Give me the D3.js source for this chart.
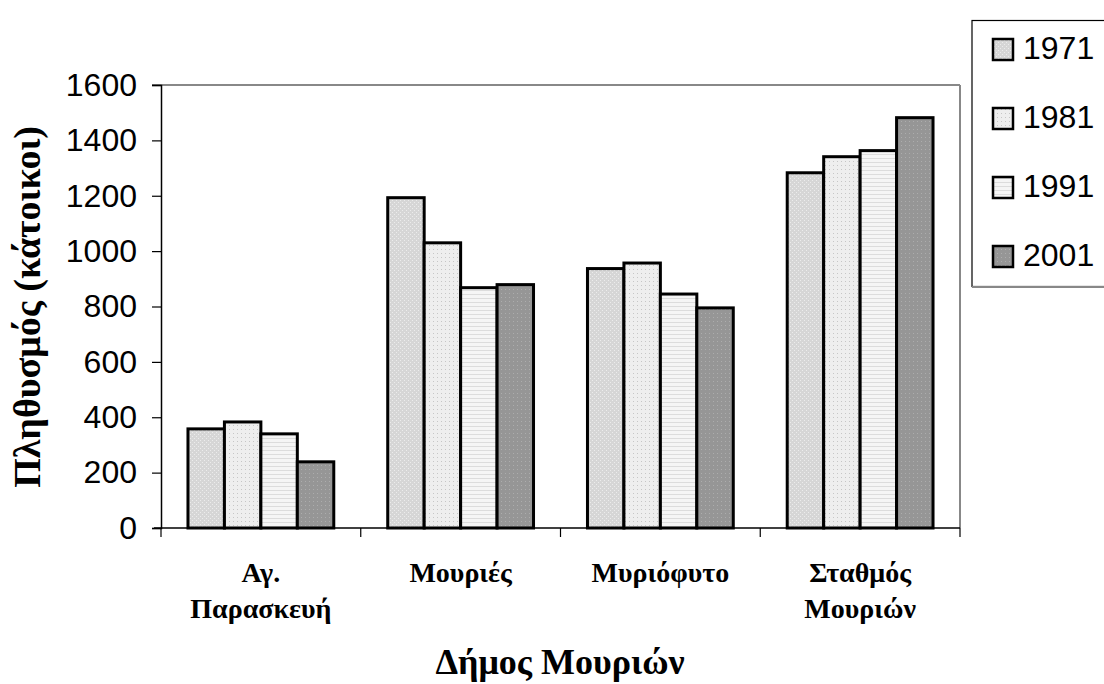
<!DOCTYPE html>
<html><head><meta charset="utf-8">
<script src="https://cdn.jsdelivr.net/npm/d3@7"></script>
<style>body{margin:0;background:#fff}svg{display:block}</style>
</head><body>
<script>
const categories = [["Αγ.","Παρασκευή"],["Μουριές"],["Μυριόφυτο"],["Σταθμός","Μουριών"]];
const years = ["1971","1981","1991","2001"];
const v1971 = [358, 1193, 937, 1283];
const v1981 = [383, 1030, 957, 1341];
const v1991 = [340, 868, 845, 1363];
const v2001 = [239, 879, 795, 1482];
const yTicks = [0,200,400,600,800,1000,1200,1400,1600];
const series = [v1971, v1981, v1991, v2001];

const W = 1104, H = 684;
const svg = d3.select("body").append("svg").attr("width", W).attr("height", H);
const defs = svg.append("defs");
function pat(id, bg, draw){
  const p = defs.append("pattern").attr("id", id).attr("patternUnits","userSpaceOnUse").attr("width",4).attr("height",4);
  p.append("rect").attr("width",4).attr("height",4).attr("fill",bg);
  draw(p);
}
pat("p0","#d6d6d6",p=>{p.append("rect").attr("x",0).attr("y",0).attr("width",1).attr("height",1).attr("fill","#ececec");p.append("rect").attr("x",2).attr("y",2).attr("width",1).attr("height",1).attr("fill","#ececec");});
pat("p1","#eeeeee",p=>{p.append("rect").attr("x",1).attr("y",1).attr("width",1).attr("height",1).attr("fill","#c6c6c6");});
pat("p2","#f5f5f5",p=>{p.append("rect").attr("x",0).attr("y",2).attr("width",4).attr("height",1).attr("fill","#dcdcdc");});
pat("p3","#969696",p=>{p.append("rect").attr("x",1).attr("y",1).attr("width",1).attr("height",1).attr("fill","#adadad");});
const fills = ["url(#p0)","url(#p1)","url(#p2)","url(#p3)"];

const x0 = d3.scaleBand().domain(d3.range(categories.length)).range([161, 960]).paddingInner(0).paddingOuter(0);
const x1 = d3.scaleBand().domain(d3.range(years.length)).range([0, x0.bandwidth()]).paddingInner(0).paddingOuter(0.74);
const y = d3.scaleLinear().domain([0,1600]).range([528, 85]);

// plot border (gray top and right)
svg.append("line").attr("x1",152).attr("x2",960).attr("y1",y(1600)).attr("y2",y(1600)).attr("stroke","#888").attr("stroke-width",2);
svg.append("line").attr("x1",960).attr("x2",960).attr("y1",y(1600)).attr("y2",y(0)).attr("stroke","#888").attr("stroke-width",2);

// bars
const g = svg.append("g");
series.forEach((vals, si) => {
  g.selectAll(null).data(vals).enter().append("rect")
    .attr("x", (d,i) => x0(i) + x1(si))
    .attr("y", d => y(d))
    .attr("width", x1.bandwidth())
    .attr("height", d => y(0) - y(d))
    .attr("fill", fills[si])
    .attr("stroke", "#000").attr("stroke-width", 3);
});

// y axis
const yAxis = d3.axisLeft(y).tickValues(yTicks).tickSize(9).tickPadding(15).tickFormat(d3.format("d"));
const ya = svg.append("g").attr("transform","translate(161,0)").call(yAxis);
ya.select(".domain").attr("stroke","#000").attr("stroke-width",1.5);
ya.selectAll(".tick line").attr("stroke","#000").attr("stroke-width",1.2);
ya.selectAll(".tick text").attr("font-family","Arial, 'Liberation Sans', sans-serif").attr("font-size",32).attr("fill","#000");

// x axis
const xa = svg.append("g").attr("transform",`translate(0,${y(0)})`);
xa.append("line").attr("x1",154).attr("x2",960).attr("stroke","#000").attr("stroke-width",1.5);
const bounds = d3.range(categories.length+1).map(i => i < categories.length ? x0(i) : x0(i-1)+x0.bandwidth());
xa.selectAll(null).data(bounds).enter().append("line")
  .attr("x1",d=>d).attr("x2",d=>d).attr("y1",0).attr("y2",9).attr("stroke","#000").attr("stroke-width",1.2);
categories.forEach((lines, i) => {
  const cx = x0(i)+x0.bandwidth()/2;
  const t = xa.append("text").attr("x", cx).attr("y", 54)
    .attr("text-anchor","middle").attr("font-family","'Liberation Serif','Times New Roman',serif")
    .attr("font-weight","bold").attr("font-size",28);
  lines.forEach((l, j) => t.append("tspan").attr("x", cx).attr("dy", j===0?0:36).text(l));
});

// axis titles
svg.append("text").attr("x", 560).attr("y", 674).attr("text-anchor","middle")
  .attr("font-family","'Liberation Serif','Times New Roman',serif").attr("font-weight","bold").attr("font-size",36).text("Δήμος Μουριών");
svg.append("text").attr("transform","translate(40,307) rotate(-90)").attr("text-anchor","middle")
  .attr("font-family","'Liberation Serif','Times New Roman',serif").attr("font-weight","bold").attr("font-size",38).text("Πληθυσμός (κάτοικοι)");

// legend
const lg = svg.append("g");
lg.append("rect").attr("x",972).attr("y",20.5).attr("width",140).attr("height",266).attr("fill","#fff").attr("stroke","#000").attr("stroke-width",1.2);
lg.append("line").attr("x1",972).attr("x2",1104).attr("y1",287).attr("y2",287).attr("stroke","#888").attr("stroke-width",2);
const ly = d3.scalePoint().domain(years).range([49, 256]);
years.forEach((yr, i) => {
  lg.append("rect").attr("x",993).attr("y",ly(yr)-10).attr("width",20).attr("height",21).attr("fill",fills[i]).attr("stroke","#000").attr("stroke-width",2.5);
  lg.append("text").attr("x",1023).attr("y",ly(yr)+10).attr("font-family","Arial, 'Liberation Sans', sans-serif").attr("font-size",32).text(yr);
});
</script>
</body></html>
